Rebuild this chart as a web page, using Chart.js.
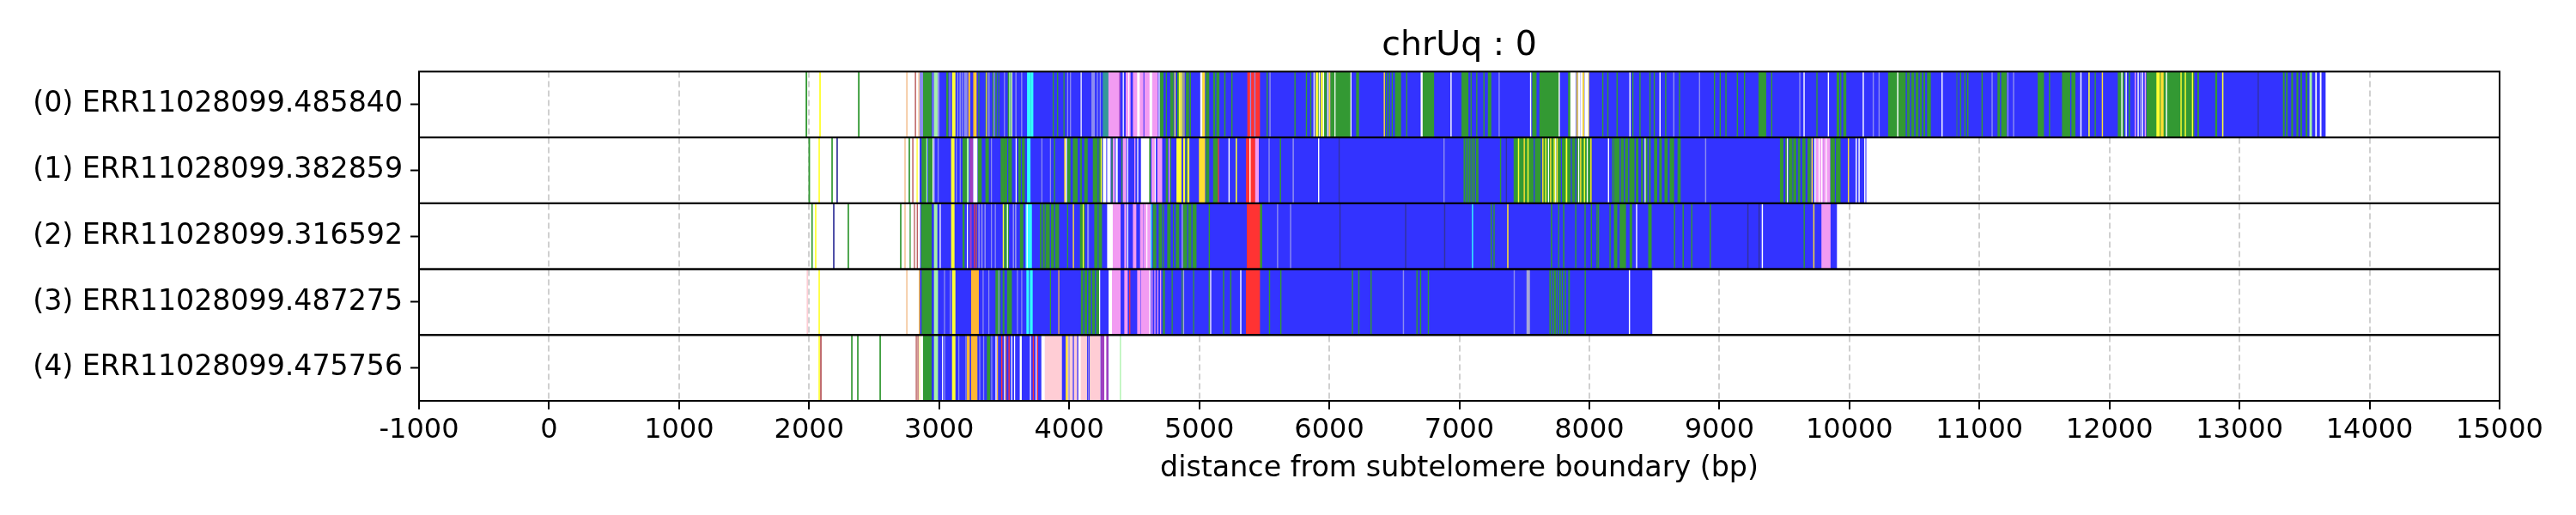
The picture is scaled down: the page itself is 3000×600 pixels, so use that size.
<!DOCTYPE html>
<html lang="en">
  <head>
    <meta charset="UTF-8" />
    <title>chrUq : 0</title>
    <script src="https://cdn.jsdelivr.net/npm/chart.js@4.4.1/dist/chart.umd.min.js"></script>
    <style>
      body { margin: 0; background: #fff; }
    </style>
  </head>
<body>
<canvas id="chart" width="3000" height="600"></canvas>
<script>

  // read names (y categories)
  const reads = [
    '(0) ERR11028099.485840',
    '(1) ERR11028099.382859',
    '(2) ERR11028099.316592',
    '(3) ERR11028099.487275',
    '(4) ERR11028099.475756'
  ];

  const xTicks = [-1000, 15000, 1000]; // min, max, step

  // colour keys, first one is drawn on top
  const palette = {
    white: '#ffffff', blue2: '#3333ff', yellow: '#ffff33', gold: '#ffdf33',
    lav: '#8c8cf0', silver: '#a8a8d8', navy: '#333399', cyan: '#33ffff',
    red: '#ff3333', brown: '#b75555', tan: '#f5c9a0', orange: '#ffb733',
    purple: '#a040c0', lgreen: '#a6f1a6', teal: '#339999', violet: '#f29bf2',
    pink: '#ffcdd5', green: '#339933', blue: '#3333ff'
  };

  // segments per read: [start bp, end bp, colour]
  const row0 = [
    [1975,1983,'green'],[2080,2088,'yellow'],[2378,2386,'green'],[2748,2756,'tan'],[2815,2820,'brown'],
    [2841,2852,'tan'],
    [2852,13660,'blue'],
    [2852,2874,'lav'],[2874,2940,'green'],[2950,2955,'lav'],[2962,2989,'lgreen'],[2990,3000,'lav'],
    [3057,3068,'green'],[3080,3084,'lav'],[3101,3123,'yellow'],[3140,3145,'lav'],[3158,3165,'lav'],
    [3175,3180,'lav'],[3193,3215,'lav'],[3226,3237,'orange'],[3264,3286,'orange'],[3276,3280,'gold'],
    [3303,3307,'green'],[3358,3362,'green'],[3363,3367,'gold'],[3380,3386,'lav'],[3412,3420,'green'],
    [3420,3425,'lav'],[3435,3440,'green'],[3457,3460,'green'],[3500,3504,'lav'],[3530,3540,'green'],
    [3540,3546,'lgreen'],[3550,3560,'green'],[3557,3560,'white'],[3588,3593,'lav'],[3632,3637,'lav'],
    [3678,3700,'cyan'],[3700,3706,'teal'],[3706,3722,'cyan'],[3875,3880,'green'],[3908,3913,'green'],
    [3958,3962,'green'],
    [3986,3990,'lav'],[4008,4012,'lav'],[4090,4094,'white'],[4173,4195,'lav'],[4215,4219,'lav'],
    [4237,4241,'lav'],[4261,4299,'teal'],[4299,4387,'violet'],[4387,4391,'purple'],[4414,4418,'white'],
    [4437,4470,'violet'],[4457,4460,'white'],[4492,4525,'violet'],[4525,4540,'white'],[4540,4569,'violet'],
    [4580,4625,'violet'],[4620,4636,'white'],[4636,4680,'violet'],[4690,4694,'white'],[4701,4723,'green'],
    [4745,4749,'green'],[4779,4800,'green'],[4811,4815,'yellow'],[4833,4845,'green'],[4845,4856,'yellow'],
    [4862,4884,'yellow'],[4875,4878,'blue2'],[4900,4920,'green'],[4930,4934,'green'],[5010,5021,'white'],
    [5025,5042,'gold'],[5053,5075,'green'],[5109,5153,'green'],[5125,5129,'blue2'],
    [5194,5200,'green'],[5249,5254,'green'],[5372,5465,'red'],[5393,5397,'lav'],[5426,5430,'lav'],
    [5520,5525,'green'],[5542,5547,'lav'],[5734,5739,'green'],
    [5822,5827,'green'],[5855,5860,'green'],[5881,5885,'white'],[5897,5912,'yellow'],[5912,5920,'green'],
    [5921,5925,'white'],[5935,5950,'yellow'],[5954,5958,'white'],[5962,5978,'green'],[5987,5991,'white'],
    [5998,6006,'gold'],[6011,6165,'green'],[6042,6046,'white'],[6165,6169,'white'],[6209,6227,'green'],
    [6421,6426,'gold'],[6438,6443,'green'],[6460,6465,'green'],[6482,6487,'green'],[6507,6550,'green'],
    [6593,6598,'green'],[6705,6716,'white'],[6716,6804,'green'],[6934,6939,'white'],[7019,7068,'green'],
    [7088,7093,'green'],[7132,7137,'green'],[7187,7192,'green'],[7222,7244,'green'],[7304,7309,'lav'],
    [7546,7551,'white'],[7563,7592,'green'],[7618,7768,'green'],[7766,7771,'white'],[7839,7856,'green'],
    [7856,7894,'white'],[7903,7910,'gold'],[7916,7930,'white'],[7935,7945,'white'],[7950,7958,'gold'],
    [7965,7990,'white'],[7990,7996,'gold'],[8101,8106,'green'],[8140,8145,'green'],
    [8211,8216,'green'],[8310,8315,'white'],[8332,8337,'green'],[8387,8392,'green'],[8464,8469,'green'],
    [8497,8502,'green'],[8541,8546,'white'],[8585,8590,'green'],[8647,8652,'lav'],[8691,8696,'green'],
    [8845,8850,'lav'],[8960,8965,'green'],[9004,9009,'green'],[9048,9053,'green'],[9136,9141,'green'],
    [9191,9196,'green'],[9303,9358,'green'],[9400,9405,'green'],[9616,9621,'lav'],[9649,9654,'white'],
    [9748,9753,'green'],[9836,9841,'white'],[9904,9920,'green'],[9930,9936,'green'],[9955,9974,'green'],
    [10104,10109,'white'],[10181,10186,'lav'],[10226,10231,'lav'],[10300,10624,'green'],[10369,10374,'white'],
    [10435,10440,'blue2'],[10468,10473,'blue2'],[10501,10506,'blue2'],[10534,10539,'blue2'],
    [10560,10566,'blue2'],[10585,10595,'blue2'],[10690,10822,'blue2'],[10710,10715,'white'],
    [10787,10792,'lav'],[10822,10827,'green'],[10853,10858,'green'],[10886,10891,'green'],[10908,10913,'green'],
    [11018,11023,'green'],[11095,11100,'lav'],[11141,11207,'green'],[11160,11165,'blue2'],[11216,11221,'lav'],
    [11260,11265,'lav'],[11450,11494,'green'],[11536,11541,'green'],[11637,11736,'green'],[11700,11705,'blue2'],
    [11778,11783,'white'],[11840,11846,'yellow'],[11888,11893,'green'],[11943,11948,'gold'],
    [12066,12110,'green'],[12093,12098,'white'],[12126,12131,'white'],[12150,12156,'green'],
    [12196,12201,'violet'],[12218,12223,'white'],[12236,12241,'lav'],[12251,12256,'white'],[12273,12278,'violet'],
    [12286,12363,'green'],[12363,12385,'yellow'],[12385,12462,'green'],[12396,12414,'gold'],[12436,12441,'white'],
    [12462,12650,'green'],[12548,12553,'yellow'],[12581,12586,'yellow'],[12636,12641,'yellow'],
    [12678,12686,'green'],[12815,12826,'green'],[12868,12874,'yellow'],[13142,13146,'navy'],
    [13336,13345,'green'],[13360,13368,'green'],[13400,13410,'green'],[13440,13450,'green'],
    [13470,13478,'green'],[13510,13520,'green'],[13540,13555,'lgreen'],[13585,13592,'white'],[13620,13628,'white']
  ];

  const row1 = [
    [1997,2005,'green'],[2074,2081,'yellow'],[2173,2180,'green'],[2212,2219,'navy'],[2734,2741,'tan'],
    [2767,2774,'green'],[2795,2800,'brown'],[2828,2833,'yellow'],
    [2852,10128,'blue'],
    [2867,2903,'green'],[2903,2908,'lgreen'],[2918,2947,'green'],[2951,2955,'white'],[2960,2965,'lav'],
    [2990,2995,'lav'],[3094,3116,'yellow'],[3130,3134,'lav'],[3160,3164,'lav'],[3182,3215,'green'],
    [3215,3226,'lgreen'],[3237,3259,'purple'],[3264,3292,'white'],[3299,3325,'green'],[3358,3380,'green'],
    [3400,3404,'lav'],[3475,3501,'green'],[3506,3557,'green'],[3525,3529,'blue2'],[3590,3594,'white'],
    [3612,3656,'green'],[3630,3634,'blue2'],[3678,3700,'cyan'],[3788,3792,'lav'],[3854,3858,'lav'],
    [3885,3890,'green'],
    [3964,3975,'gold'],[3975,3980,'white'],[3986,4008,'green'],[4030,4063,'green'],[4085,4096,'green'],
    [4118,4140,'green'],[4184,4217,'green'],[4228,4250,'green'],[4244,4248,'yellow'],[4261,4283,'white'],
    [4294,4316,'white'],[4327,4331,'green'],[4338,4349,'violet'],[4360,4371,'white'],[4404,4408,'green'],
    [4415,4437,'violet'],[4448,4452,'white'],[4503,4507,'violet'],[4525,4529,'white'],[4554,4613,'white'],
    [4613,4624,'green'],[4635,4657,'violet'],[4660,4664,'white'],[4680,4713,'violet'],[4745,4756,'green'],
    [4767,4771,'violet'],[4778,4782,'green'],[4827,4867,'yellow'],[4866,4871,'blue2'],[4878,4889,'yellow'],
    [4900,4904,'green'],[4911,4922,'yellow'],[5000,5043,'gold'],[5053,5075,'green'],[5109,5142,'green'],
    [5146,5150,'red'],
    [5227,5232,'white'],[5282,5288,'yellow'],[5362,5428,'red'],[5388,5393,'white'],[5428,5456,'violet'],
    [5535,5540,'lav'],[5622,5627,'green'],[5720,5726,'lav'],
    [5916,5921,'white'],[6074,6078,'navy'],[6880,6885,'lav'],[7035,7042,'green'],[7050,7056,'green'],
    [7062,7070,'green'],[7078,7085,'green'],[7095,7102,'green'],[7110,7118,'green'],[7130,7145,'green'],
    [7315,7320,'green'],[7360,7364,'navy'],
    [7420,8015,'green'],[7453,7458,'yellow'],[7497,7502,'gold'],[7526,7531,'yellow'],[7640,7645,'gold'],
    [7662,7667,'yellow'],[7700,7705,'gold'],[7728,7733,'yellow'],[7750,7755,'gold'],[7821,7828,'yellow'],
    [7931,7936,'gold'],[7960,7965,'yellow'],[8010,8015,'gold'],[7684,7688,'white'],[7739,7743,'white'],
    [7916,7920,'white'],[7982,7986,'white'],[7574,7578,'blue2'],[7629,7633,'blue2'],[7783,7787,'blue2'],
    [7860,7864,'blue2'],[7894,7898,'blue2'],
    [8145,8150,'white'],[8178,8183,'green'],
    [8191,8345,'green'],[8235,8239,'blue2'],[8268,8272,'blue2'],[8301,8305,'blue2'],[8360,8375,'green'],
    [8400,8410,'green'],[8427,8431,'white'],[8430,8445,'green'],[8460,8470,'green'],[8500,8520,'green'],
    [8540,8555,'green'],[8580,8600,'green'],[8620,8650,'green'],[8680,8700,'green'],[8892,8897,'lav'],
    [9468,9490,'green'],[9510,9520,'green'],[9521,9525,'white'],[9535,9560,'green'],[9570,9590,'green'],
    [9605,9620,'green'],[9640,9660,'green'],[9680,9700,'green'],[9710,9716,'gold'],[9732,9740,'white'],
    [9745,9800,'violet'],[9765,9770,'white'],[9785,9790,'white'],[9805,9850,'violet'],[9820,9824,'white'],
    [9855,9862,'green'],[9864,9930,'green'],[9890,9894,'blue2'],[9990,9995,'gold'],
    [10050,10055,'white'],[10072,10077,'white'],[10116,10121,'white']
  ];

  const row2 = [
    [2019,2026,'green'],[2047,2054,'yellow'],[2186,2193,'navy'],[2298,2305,'green'],[2701,2708,'green'],
    [2734,2741,'tan'],[2775,2779,'green'],[2808,2812,'brown'],[2830,2834,'brown'],[2841,2852,'white'],
    [2852,9902,'blue'],
    [2863,2940,'green'],[2962,2984,'lgreen'],[3006,3010,'white'],[3094,3116,'yellow'],[3182,3193,'green'],
    [3215,3219,'white'],[3237,3248,'purple'],[3270,3274,'red'],[3285,3289,'brown'],[3303,3310,'lav'],
    [3325,3332,'lav'],[3350,3356,'lav'],[3400,3404,'lav'],[3430,3434,'lav'],[3491,3496,'yellow'],
    [3502,3535,'green'],[3523,3527,'white'],[3568,3574,'lav'],[3585,3592,'lav'],[3623,3645,'green'],
    [3667,3711,'cyan'],[3675,3679,'white'],[3777,3810,'green'],[3790,3794,'blue2'],[3820,3920,'green'],
    [3853,3857,'blue2'],[3886,3890,'blue2'],
    [3986,3990,'green'],[4030,4035,'gold'],[4085,4118,'green'],[4106,4110,'yellow'],[4140,4150,'lav'],
    [4195,4217,'green'],[4228,4250,'green'],[4294,4333,'white'],[4333,4393,'violet'],[4426,4437,'violet'],
    [4448,4452,'white'],[4492,4514,'violet'],[4547,4569,'violet'],[4576,4625,'violet'],[4595,4599,'white'],
    [4629,4633,'cyan'],[4646,4668,'green'],[4690,4712,'green'],[4723,4727,'green'],[4756,4778,'green'],
    [4800,4804,'green'],[4822,4844,'green'],[4867,4872,'silver'],[4878,4977,'green'],[4909,4913,'blue2'],
    [4942,4946,'blue2'],[5075,5080,'green'],
    [5368,5465,'red'],[5465,5482,'green'],[5600,5605,'lav'],[5700,5705,'lav'],
    [6080,6085,'navy'],[6585,6590,'navy'],[6885,6890,'navy'],[7099,7104,'cyan'],[7243,7248,'green'],
    [7265,7270,'green'],[7370,7376,'gold'],[7706,7712,'green'],[7762,7767,'green'],[7800,7806,'green'],
    [7893,7898,'green'],[7965,7970,'green'],[8013,8018,'green'],[8057,8062,'green'],[8068,8073,'green'],
    [8157,8162,'green'],
    [8191,8213,'green'],[8235,8280,'green'],[8312,8327,'green'],[8361,8366,'white'],[8455,8477,'green'],
    [8653,8658,'green'],[8719,8724,'green'],[8785,8790,'green'],[8928,8933,'green'],[9217,9222,'navy'],
    [9303,9308,'navy'],[9328,9333,'white'],[9650,9655,'green'],[9724,9729,'gold'],[9787,9853,'violet']
  ];

  const row3 = [
    [1983,1990,'pink'],[2074,2081,'yellow'],[2748,2755,'tan'],[2846,2850,'orange'],
    [2852,8482,'blue'],
    [2867,2940,'green'],[2962,2989,'lgreen'],[3039,3043,'lav'],[3083,3087,'lav'],[3101,3123,'yellow'],
    [3248,3303,'orange'],[3336,3340,'lav'],[3380,3384,'lav'],[3435,3446,'green'],[3446,3470,'green'],
    [3457,3461,'lav'],[3490,3500,'green'],[3524,3557,'green'],[3600,3604,'lav'],[3633,3637,'lav'],
    [3673,3689,'cyan'],[3700,3717,'cyan'],[3854,3858,'green'],[3918,3922,'orange'],
    [4092,4228,'green'],[4110,4114,'blue2'],[4140,4144,'blue2'],[4170,4174,'blue2'],[4200,4204,'blue2'],
    [4232,4236,'white'],[4305,4327,'white'],[4327,4393,'violet'],[4426,4448,'violet'],[4464,4468,'red'],
    [4525,4547,'violet'],[4554,4625,'violet'],[4618,4622,'white'],[4635,4639,'violet'],[4657,4661,'violet'],
    [4679,4683,'violet'],[4701,4705,'violet'],[4723,4734,'green'],[4790,4794,'green'],[4867,4871,'green'],
    [4878,4882,'silver'],[4955,4959,'green'],[5075,5079,'green'],[5086,5090,'white'],
    [5185,5190,'green'],[5240,5245,'green'],[5317,5322,'white'],[5361,5465,'red'],[5538,5543,'green'],
    [5625,5630,'green'],
    [6176,6181,'green'],[6225,6230,'green'],[6319,6324,'green'],[6568,6573,'lav'],[6672,6677,'green'],
    [6700,6705,'green'],[6760,6765,'green'],[7420,7425,'lav'],[7519,7541,'silver'],[7695,7702,'green'],
    [7715,7720,'green'],[7730,7740,'green'],[7750,7755,'green'],[7770,7778,'green'],[7790,7796,'green'],
    [7812,7818,'green'],[7840,7848,'green'],[7966,7971,'green'],[8306,8311,'white']
  ];

  const row4 = [
    [2074,2081,'yellow'],[2087,2094,'brown'],[2325,2332,'green'],[2371,2378,'green'],[2543,2550,'green'],
    [2822,2826,'brown'],[2835,2839,'brown'],[2850,2854,'yellow'],
    [2852,4299,'blue'],
    [2854,2874,'white'],[2874,2940,'green'],[2962,2989,'lgreen'],[3024,3028,'white'],[3040,3044,'lav'],
    [3101,3123,'yellow'],[3149,3153,'lav'],[3204,3208,'lav'],[3215,3233,'orange'],[3248,3292,'orange'],
    [3310,3314,'lav'],[3340,3344,'lav'],[3369,3391,'green'],[3402,3406,'lav'],[3435,3440,'white'],
    [3446,3450,'orange'],[3479,3484,'red'],[3501,3506,'white'],[3512,3516,'brown'],[3535,3540,'red'],
    [3556,3560,'white'],[3578,3582,'white'],[3622,3633,'white'],[3700,3704,'white'],[3722,3727,'red'],
    [3744,3748,'white'],[3755,3759,'red'],[3788,3810,'white'],[3810,3942,'pink'],
    [3975,4239,'pink'],[3975,3986,'gold'],[3997,4001,'lav'],[4030,4034,'blue2'],[4063,4067,'blue2'],
    [4076,4086,'white'],[4140,4144,'blue2'],[4151,4155,'blue2'],[4246,4272,'purple'],[4272,4283,'white'],
    [4283,4299,'purple'],[4392,4396,'lgreen']
  ];

  const rows = [row0, row1, row2, row3, row4];
  const colourKeys = Object.keys(palette);

  const datasets = colourKeys.map((key, idx) => ({
    label: key,
    order: idx,
    data: rows.flatMap((row, i) => row
      .filter(s => s[2] === key)
      .map(s => ({ x: [s[0], s[1]], y: reads[i] }))),
    backgroundColor: palette[key],
    borderWidth: 0,
    grouped: false,
    categoryPercentage: 1,
    barPercentage: 1
  }));

  // black frame round each read row
  const rowFrames = {
    id: 'rowFrames',
    afterDraw(chart) {
      const { ctx, chartArea, scales } = chart;
      const y = scales.y;
      const half = (y.getPixelForValue(1) - y.getPixelForValue(0)) / 2;
      ctx.save();
      ctx.strokeStyle = '#000';
      ctx.lineWidth = 2;
      reads.forEach((r, i) => {
        const c = y.getPixelForValue(i);
        ctx.strokeRect(chartArea.left, c - half, chartArea.right - chartArea.left, 2 * half);
      });
      ctx.restore();
    }
  };

  Chart.defaults.font.family = 'DejaVu Sans';
  Chart.defaults.color = '#000';

  new Chart(document.getElementById('chart'), {
    type: 'bar',
    data: { labels: reads, datasets },
    plugins: [rowFrames],
    options: {
      indexAxis: 'y',
      responsive: false,
      animation: false,
      devicePixelRatio: 1,
      layout: { padding: { left: 20, right: 89, top: 0, bottom: 0 } },
      plugins: {
        legend: { display: false },
        tooltip: { enabled: false },
        title: {
          display: true,
          text: 'chrUq : 0',
          fullSize: false,
          font: { size: 39.5, weight: 'normal' },
          padding: { top: 30, bottom: 6 }
        }
      },
      scales: {
        x: {
          type: 'linear',
          min: xTicks[0],
          max: xTicks[1],
          z: 1,
          ticks: {
            stepSize: xTicks[2],
            font: { size: 32 },
            padding: 5,
            maxRotation: 0,
            autoSkip: false,
            callback: v => String(v)
          },
          grid: {
            color: 'rgba(176,176,176,0.6)',
            lineWidth: 2,
            tickColor: '#000',
            tickWidth: 2,
            tickLength: 10
          },
          border: { display: false, dash: [7, 4] },
          title: {
            display: true,
            text: 'distance from subtelomere boundary (bp)',
            font: { size: 33.3 },
            padding: { top: 0, bottom: 34 }
          },
          afterFit: scale => { scale.height = 133; }
        },
        y: {
          type: 'category',
          offset: true,
          ticks: { font: { size: 33.2 }, padding: 9 },
          grid: {
            drawOnChartArea: false,
            offset: false,
            color: '#000',
            tickColor: '#000',
            tickWidth: 2,
            tickLength: 10
          },
          border: { display: false },
          afterFit: scale => { scale.width = 468; }
        }
      }
    }
  });
</script>
</body>
</html>
